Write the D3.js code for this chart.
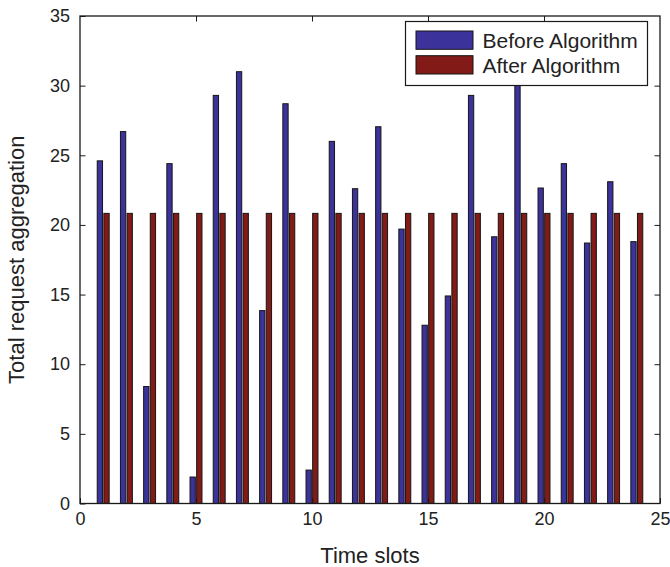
<!DOCTYPE html>
<html>
<head>
<meta charset="utf-8">
<script src="https://cdn.jsdelivr.net/npm/d3@7/dist/d3.min.js"></script>
<style>
  html, body { margin: 0; padding: 0; background: #fff; }
  svg { display: block; font-family: "Liberation Sans", Arial, Helvetica, sans-serif; }
</style>
</head>
<body>
<svg id="chart" width="670" height="567"></svg>
<script>
// Time slots 1..24
const slots = [1,2,3,4,5,6,7,8,9,10,11,12,13,14,15,16,17,18,19,20,21,22,23,24];
// Request aggregation per slot before the balancing algorithm
const before = [24.6,26.7,8.4,24.4,1.9,29.3,31.0,13.85,28.7,2.4,26.0,22.6,27.05,19.7,12.8,14.9,29.3,19.15,30.1,22.65,24.4,18.7,23.1,18.8];
// After the algorithm every slot carries the same load
const after = [20.83,20.83,20.83,20.83,20.83,20.83,20.83,20.83,20.83,20.83,20.83,20.83,20.83,20.83,20.83,20.83,20.83,20.83,20.83,20.83,20.83,20.83,20.83,20.83];
const seriesNames = ["Before Algorithm", "After Algorithm"];
const seriesColors = ["#3c329c", "#821a17"];
const xTicks = [0,5,10,15,20,25];
const yTicks = [0,5,10,15,20,25,30,35];

const svg = d3.select("#chart");
const m = { left: 80, right: 660, top: 16, bottom: 503.5 };

const x = d3.scaleLinear().domain([0, 25]).range([m.left, m.right]);
const y = d3.scaleLinear().domain([0, 35]).range([m.bottom, m.top]);

// grouped bar geometry (units of the x domain)
const groupWidth = 0.5714;
const offsets = [-groupWidth / 4, groupWidth / 4];
const barW = groupWidth / 2 * 0.8;

const series = [before, after];
series.forEach((vals, si) => {
  svg.append("g")
    .selectAll("rect")
    .data(slots.map((s, i) => ({ s, v: vals[i] })))
    .join("rect")
    .attr("x", d => x(d.s + offsets[si] - barW / 2))
    .attr("width", d => x(d.s + offsets[si] + barW / 2) - x(d.s + offsets[si] - barW / 2))
    .attr("y", d => y(d.v))
    .attr("height", d => y(0) - y(d.v))
    .attr("fill", seriesColors[si])
    .attr("stroke", "#151515")
    .attr("stroke-width", 1);
});

// axes box with inward ticks on all four sides
const tickLen = 5.5;
const fmt = d3.format("d");
function styleAxis(g) {
  g.select(".domain").remove();
  g.selectAll(".tick line").attr("stroke", "#1a1a1a").attr("stroke-width", 1);
  g.selectAll(".tick text").attr("fill", "#222").style("font-size", "18px");
}
svg.append("g").attr("transform", `translate(0,${m.bottom})`)
  .call(d3.axisBottom(x).tickValues(xTicks).tickFormat(fmt).tickSizeInner(-tickLen).tickPadding(9))
  .call(styleAxis);
svg.append("g").attr("transform", `translate(0,${m.top})`)
  .call(d3.axisTop(x).tickValues(xTicks.slice(1, -1)).tickFormat("").tickSizeInner(-tickLen))
  .call(styleAxis);
svg.append("g").attr("transform", `translate(${m.left},0)`)
  .call(d3.axisLeft(y).tickValues(yTicks).tickFormat(fmt).tickSizeInner(-tickLen).tickPadding(10))
  .call(styleAxis);
svg.append("g").attr("transform", `translate(${m.right},0)`)
  .call(d3.axisRight(y).tickValues(yTicks.slice(1, -1)).tickFormat("").tickSizeInner(-tickLen))
  .call(styleAxis);

svg.append("rect")
  .attr("x", m.left).attr("y", m.top)
  .attr("width", m.right - m.left).attr("height", m.bottom - m.top)
  .attr("fill", "none").attr("stroke", "#1a1a1a").attr("stroke-width", 1.3);

// axis titles
svg.append("text")
  .attr("x", (m.left + m.right) / 2).attr("y", 563)
  .attr("text-anchor", "middle").attr("fill", "#222")
  .style("font-size", "22px").text("Time slots");
svg.append("text")
  .attr("transform", `translate(24,${(m.top + m.bottom) / 2}) rotate(-90)`)
  .attr("text-anchor", "middle").attr("fill", "#222")
  .style("font-size", "22px").text("Total request aggregation");

// legend
const lg = svg.append("g");
lg.append("rect")
  .attr("x", 405.5).attr("y", 21.5).attr("width", 242).attr("height", 64)
  .attr("fill", "#fff").attr("stroke", "#1a1a1a").attr("stroke-width", 1.2);
seriesNames.forEach((name, i) => {
  const yy = 31 + i * 24.7;
  lg.append("rect")
    .attr("x", 416).attr("y", yy).attr("width", 57).attr("height", 18.3)
    .attr("fill", seriesColors[i]).attr("stroke", "#151515").attr("stroke-width", 1);
  lg.append("text")
    .attr("x", 482.5).attr("y", yy + 16.8)
    .attr("fill", "#222").style("font-size", "21px").text(name);
});
</script>
</body>
</html>
